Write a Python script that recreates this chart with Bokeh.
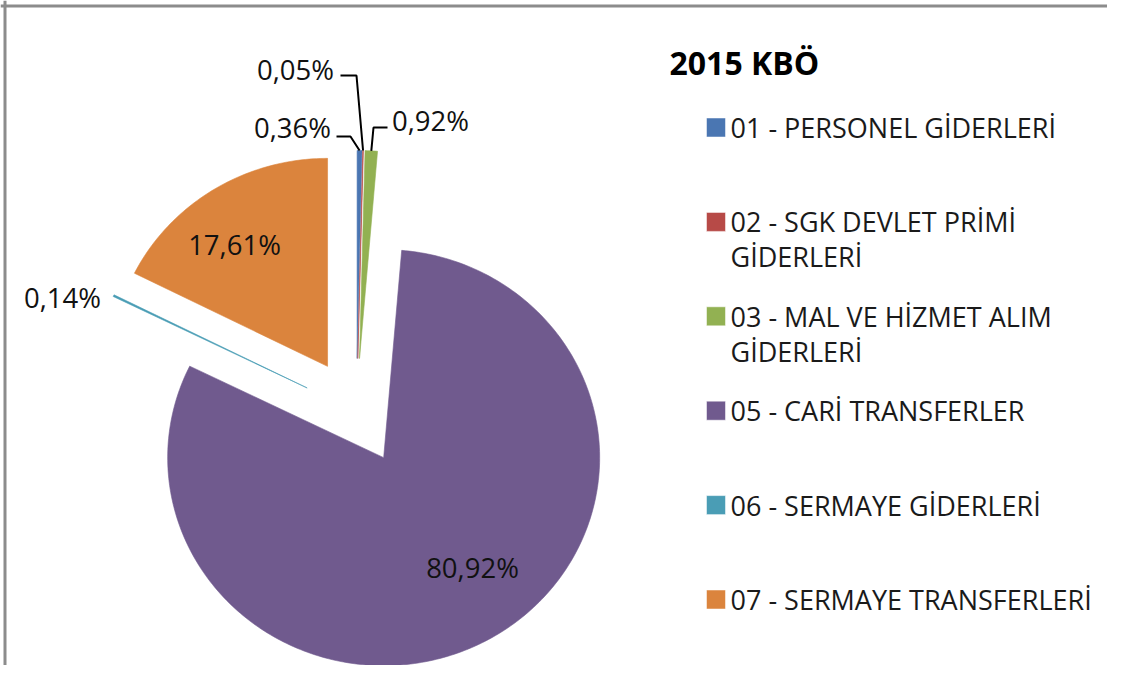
import numpy as np
from bokeh.plotting import figure
from bokeh.models import Range1d, Span
from bokeh.core.properties import value
from bokeh.embed import file_html
from bokeh.resources import INLINE

# ---------------- data ----------------
title_text = "2015 KBÖ"
categories = [
    "01 - PERSONEL GİDERLERİ",
    "02 - SGK DEVLET PRİMİ\nGİDERLERİ",
    "03 - MAL VE HİZMET ALIM\nGİDERLERİ",
    "05 - CARİ TRANSFERLER",
    "06 - SERMAYE GİDERLERİ",
    "07 - SERMAYE TRANSFERLERİ",
]
shares = [0.36, 0.05, 0.92, 80.92, 0.14, 17.61]
colors = ["#4A76B2", "#B74A47", "#92B152", "#705A8E", "#4A9DB5", "#DB843D"]

# ---------------- layout ----------------
W, H = 1107, 665
FONT = "Open Sans"
CX, CY = 356, 411          # pie centre (image pixels)
RX, RY = 216, 208          # pie radii
EXPLODE = 0.255            # explosion (fraction of radius)

# label anchor positions (image pixels) and leader elbows
label_pos = [(292, 127), (295, 69), (430, 120), (472, 567), (62, 297), (234, 244)]
leader_elbows = {0: [(336, 136), (350, 136)],
                 1: [(340, 75), (356, 75)],
                 2: [(387, 127), (373, 127)]}

LEG_SQ_X = 715.5
LEG_TXT_X = 730
LEG_Y0, LEG_STEP, LEG_LINE = 127, 94.4, 35

p = figure(width=W, height=H,
           x_range=Range1d(0, W), y_range=Range1d(H, 0),
           output_backend="svg", toolbar_location=None,
           x_axis_location=None, y_axis_location=None,
           min_border=0, outline_line_color=None,
           background_fill_color="white", border_fill_color="white")
p.grid.visible = False

# frame lines (top and left)
p.add_layout(Span(location=5.5, dimension="width", line_color="#8C8C8C", line_width=3))
p.add_layout(Span(location=4.5, dimension="height", line_color="#8C8C8C", line_width=3))

# ---------------- pie ----------------
total = sum(shares)
edges = np.concatenate([[0.0], np.cumsum(shares)]) / total * 2 * np.pi
xs_list, ys_list, mids = [], [], []
for i in range(len(shares)):
    a0, a1 = edges[i], edges[i + 1]
    mid = 0.5 * (a0 + a1)
    mids.append(mid)
    n = max(3, int(np.degrees(a1 - a0)) + 3)
    t = np.linspace(a0, a1, n)
    ox, oy = EXPLODE * np.sin(mid), EXPLODE * np.cos(mid)
    xs = np.concatenate([[CX + ox * RX], CX + (ox + np.sin(t)) * RX])
    ys = np.concatenate([[CY - oy * RY], CY - (oy + np.cos(t)) * RY])
    xs_list.append(list(xs))
    ys_list.append(list(ys))

p.patches(xs_list, ys_list, fill_color=colors, line_color=colors, line_width=0.6)

# ---------------- data labels ----------------
labels = [f"{v:.2f}".replace(".", ",") + "%" for v in shares]
p.text(x=[q[0] for q in label_pos], y=[q[1] for q in label_pos], text=labels,
       text_font=value(FONT), text_font_size="27.5px", text_color="#111111",
       text_align="center", text_baseline="middle")

for i, elbows in leader_elbows.items():
    mid = mids[i]
    ex = CX + (EXPLODE + 1.0) * np.sin(mid) * RX
    ey = CY - (EXPLODE + 1.0) * np.cos(mid) * RY
    lx = [e[0] for e in elbows] + [ex]
    ly = [e[1] for e in elbows] + [ey]
    p.line(lx, ly, line_color="black", line_width=2)

# ---------------- title & legend ----------------
p.text(x=[669], y=[62], text=[title_text], text_font=value(FONT),
       text_font_size="32px", text_font_style="bold", text_color="black",
       text_align="left", text_baseline="middle")

leg_y = [LEG_Y0 + i * LEG_STEP for i in range(len(categories))]
p.rect(x=[LEG_SQ_X] * len(categories), y=leg_y, width=19, height=19,
       fill_color=colors, line_color="white", line_width=0.5)

tx, ty, tt = [], [], []
for y0, cat in zip(leg_y, categories):
    for k, line in enumerate(cat.split("\n")):
        tx.append(LEG_TXT_X)
        ty.append(y0 + k * LEG_LINE)
        tt.append(line)
p.text(x=tx, y=ty, text=tt, text_font=value(FONT), text_font_size="27px",
       text_color="#1A1A1A", text_align="left", text_baseline="middle")

open("out.html", "w").write(file_html(p, INLINE))
